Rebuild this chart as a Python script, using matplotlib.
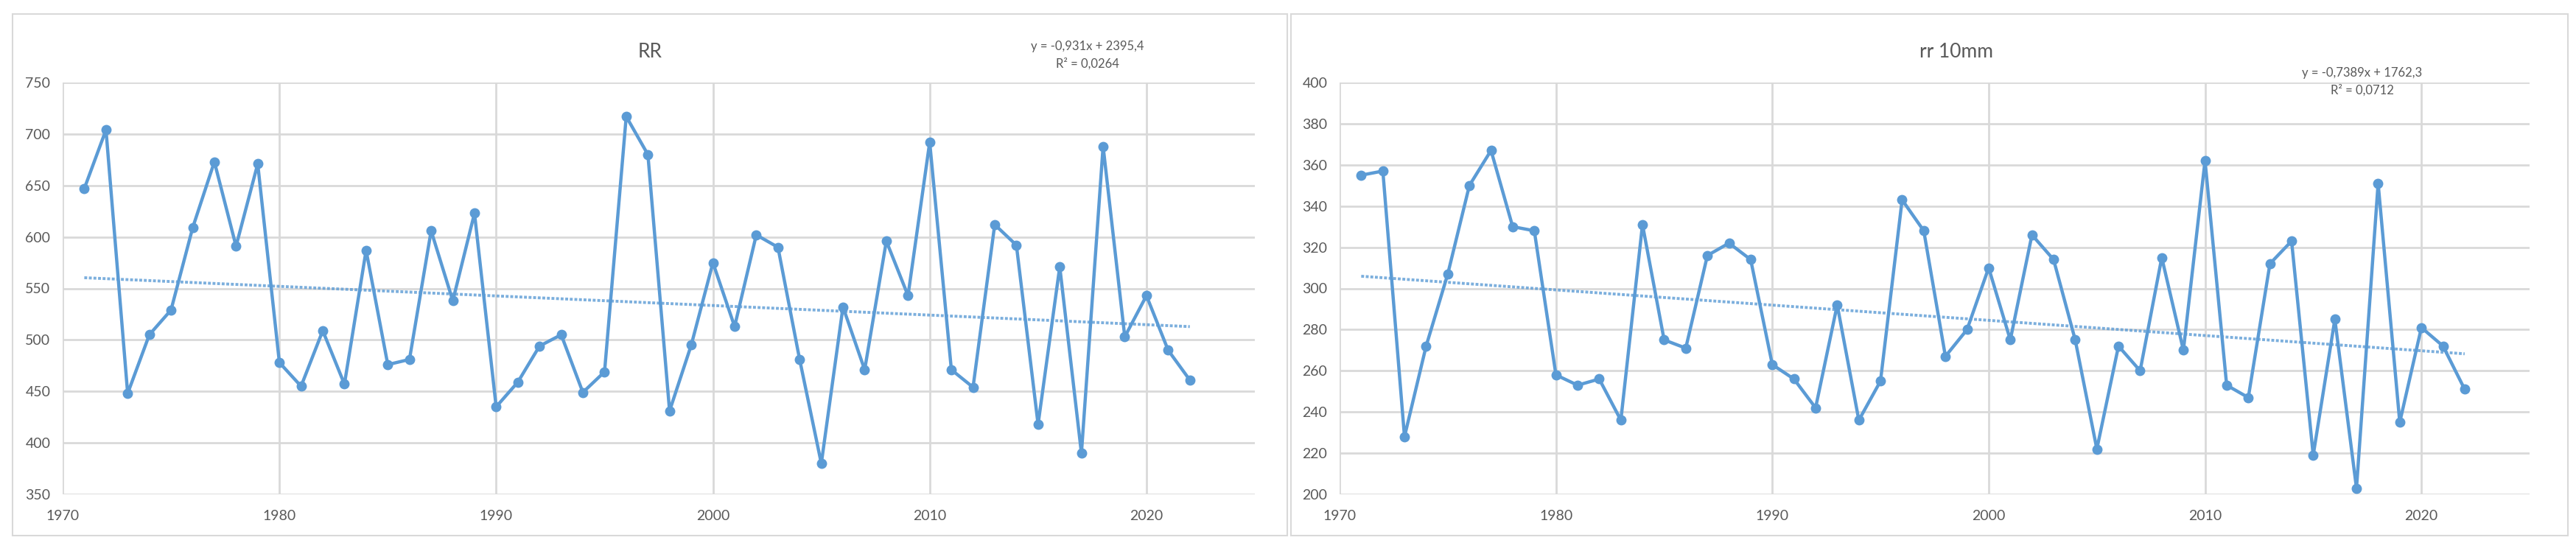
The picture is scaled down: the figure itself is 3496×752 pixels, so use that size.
import numpy as np
import matplotlib
matplotlib.use("Agg")
import matplotlib.pyplot as plt
from matplotlib.patches import Rectangle

plt.rcParams['font.family'] = ['Lato', 'DejaVu Sans']

years = list(range(1971, 2023))

rr = [647, 704, 448, 505, 529, 609, 673, 591, 671, 478,
      455, 509, 457, 587, 476, 481, 606, 538, 623, 435,
      459, 494, 505, 449, 469, 717, 680, 431, 495, 575,
      513, 602, 590, 481, 380, 532, 471, 596, 543, 692,
      471, 454, 612, 592, 418, 571, 390, 688, 503, 543,
      490, 461]

rr10 = [355, 357, 228, 272, 307, 350, 367, 330, 328, 258,
        253, 256, 236, 331, 275, 271, 316, 322, 314, 263,
        256, 242, 292, 236, 255, 343, 328, 267, 280, 310,
        275, 326, 314, 275, 222, 272, 260, 315, 270, 362,
        253, 247, 312, 323, 219, 285, 203, 351, 235, 281,
        272, 251]

# Excel trendline coefficients (slope, intercept) and R^2
rr_fit = (-0.931, 2395.4)
rr10_fit = (-0.7389, 1762.3)
rr_label = "y = -0,931x + 2395,4\nR² = 0,0264"
rr10_label = "y = -0,7389x + 1762,3\nR² = 0,0712"

blue = "#5B9BD5"
grid = "#D9D9D9"
txt = "#595959"

W, H = 3496, 752
fig = plt.figure(figsize=(W / 100, H / 100), dpi=100)

# panel frames
for x0, x1 in [(17, 1747), (1752, 3485)]:
    fig.add_artist(Rectangle((x0 / W, 1 - 727 / H), (x1 - x0) / W, (727 - 19) / H,
                             transform=fig.transFigure, fill=False,
                             edgecolor=grid, lw=1.5))


def panel(left, right, vals, fit, label, title, ylim, ystep, title_x, eq_xy):
    ax = fig.add_axes([left / W, 1 - 671 / H, (right - left) / W, (671 - 112) / H])
    ax.plot(years, vals, color=blue, lw=3.2, marker='o', ms=9, zorder=3)
    xs = np.array([years[0], years[-1]])
    ax.plot(xs, fit[0] * xs + fit[1], color=blue, lw=2.8, ls=(0, (1, 0.6)),
            alpha=0.8, zorder=2)
    ax.set_xlim(1970, 2025)
    ax.set_ylim(*ylim)
    ax.set_xticks(range(1970, 2021, 10))
    ax.set_yticks(np.arange(ylim[0], ylim[1] + 1, ystep))
    ax.grid(True, color=grid, lw=2)
    ax.set_axisbelow(True)
    for s in ax.spines.values():
        s.set_visible(False)
    ax.tick_params(length=0, labelsize=14, colors=txt, pad=12)
    ax.tick_params(axis='x', pad=15)
    fig.text(title_x / W, 1 - 70 / H, title, ha='center', va='center',
             fontsize=19, color=txt)
    fig.text(eq_xy[0] / W, 1 - eq_xy[1] / H, label, ha='center', va='center',
             fontsize=12, color=txt, linespacing=1.5)
    return ax


panel(85, 1703, rr, rr_fit, rr_label, "RR", (350, 750), 50, 882, (1476, 75))
panel(1818, 3433, rr10, rr10_fit, rr10_label, "rr 10mm", (200, 400), 20, 2655, (3206, 111))

fig.savefig("out.png", dpi=100, facecolor="white")
